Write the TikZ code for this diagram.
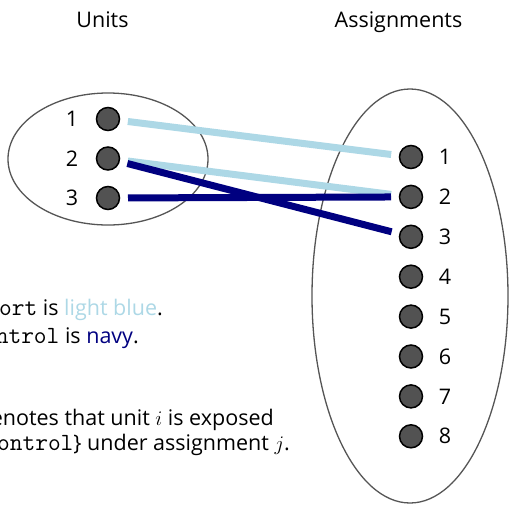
\documentclass[tikz,border=0pt]{standalone}
\usepackage{fontspec}
\setmainfont{Open Sans}
\setmonofont{Latin Modern Mono}[Scale=1.15]
\definecolor{lblue}{RGB}{173,216,230}
\definecolor{navyc}{RGB}{0,0,128}
\definecolor{dotgray}{RGB}{82,82,82}
\definecolor{rimgray}{RGB}{85,85,85}
\begin{document}
\begin{tikzpicture}[x=1pt,y=-1pt,
  dot/.style={circle,draw=black,line width=1.5pt,fill=dotgray,minimum size=23pt,inner sep=0pt},
  lab/.style={font=\fontsize{21.5}{26}\selectfont,inner sep=0pt},
  txt/.style={font=\fontsize{21.5}{26}\selectfont,inner sep=0pt,anchor=base east},
  rim/.style={draw=rimgray,line width=1.3pt},
  edgeA/.style={lblue,line width=7pt,shorten <=20pt,shorten >=20pt},
  edgeB/.style={navyc,line width=7pt,shorten <=20pt,shorten >=20pt}]
\useasboundingbox (0,0) rectangle (509,504);
\clip (0,0) rectangle (509,504);
% titles
\node[lab,anchor=base] (tu) at (102.5,27) {Units};
\node[lab,anchor=base] (ta) at (398.5,27) {Assignments};
% ellipses
\draw[rim] (108,159) ellipse [x radius=100, y radius=66];
\draw[rim] (410,296) ellipse [x radius=98, y radius=207];
% left dots
\foreach \i/\y in {1/119,2/158.5,3/198} {
  \node[dot] (l\i) at (108,\y) {};
  \node[lab] (ll\i) at (72,\y) {\i};
}
% right dots
\foreach \i in {1,...,8} {
  \node[dot] (r\i) at (411,{157+39.9*(\i-1)}) {};
  \node[lab] (rl\i) at (445,{157+39.9*(\i-1)}) {\i};
}
% edges
\draw[edgeA] (l1.center) -- (r1.center);
\draw[edgeA] (l2.center) -- (r2.center);
\draw[edgeB] (l2.center) -- (r3.center);
\draw[edgeB] (l3.center) -- (r2.center);
% legend text
\node[txt] (t1) at (163,315) {\texttt{support} is \textcolor{lblue}{light blue}.};
\node[txt] (t2) at (139,343) {\texttt{control} is \textcolor{navyc}{navy}.};
\node[txt] (t3) at (274,425) {$(i,j)$ denotes that unit $i$ is exposed};
\node[txt] (t4) at (290,450) {to \{\texttt{support}, \texttt{control}\} under assignment $j$.};
\end{tikzpicture}
\end{document}
